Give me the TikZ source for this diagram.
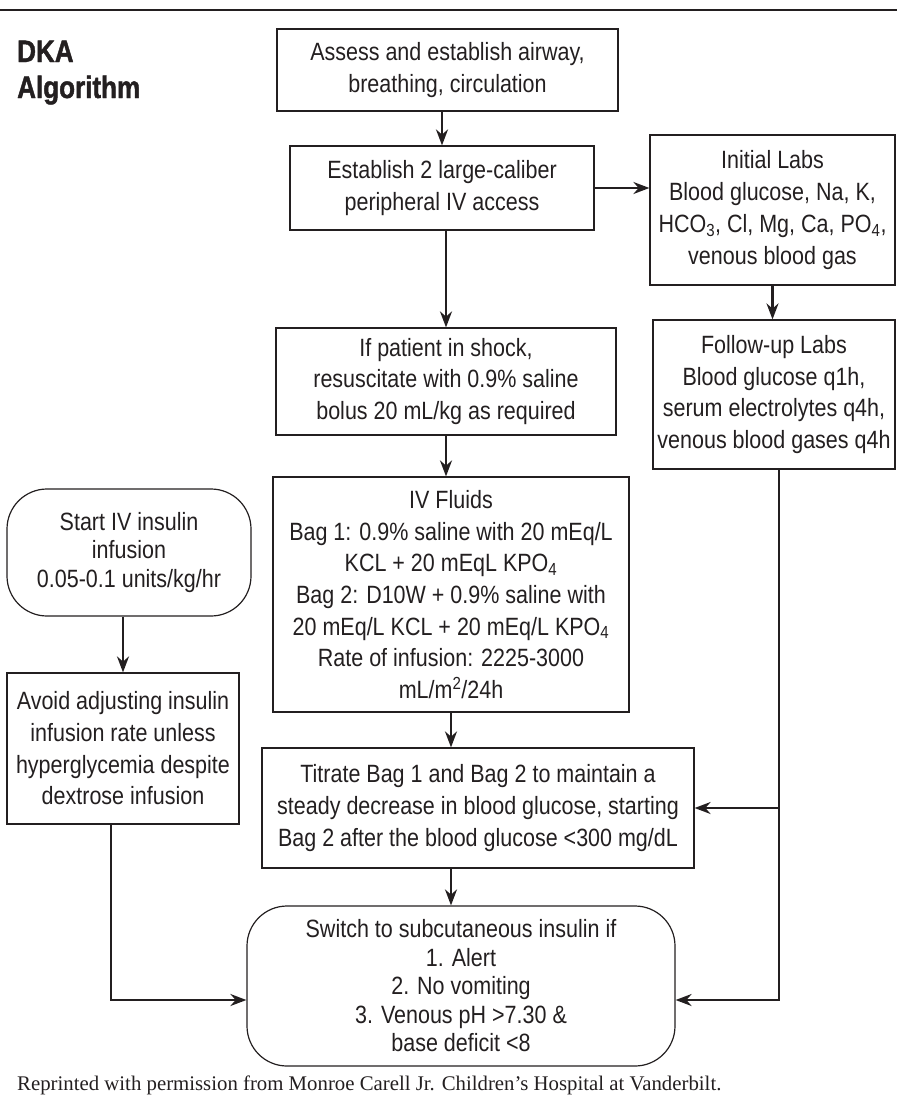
\documentclass[tikz,border=0pt]{standalone}
\usepackage{fontspec}
\setmainfont[FakeStretch=0.86]{Liberation Sans}
\newfontfamily\titlefont[FakeStretch=0.84,BoldFeatures={FakeBold=1.4}]{Liberation Sans}
\newfontfamily\captionserif{Liberation Serif}
\usetikzlibrary{arrows.meta}
\definecolor{inkgray}{RGB}{35,31,32}
\begin{document}
\begin{tikzpicture}
[x=1pt,y=-1pt,
  boxdecorate/.style={shape=rectangle,draw=inkgray,line width=1.2pt,inner sep=0pt,align=center,
    text=inkgray,font=\fontsize{25}{31.7}\selectfont},%
  rounddecorate/.style={boxdecorate,rounded corners=40pt,font=\fontsize{25}{28.5}\selectfont},%
  linedecorate/.style={-{Stealth[length=16pt,width=12pt]},line width=2.2pt,draw=inkgray}]
\useasboundingbox (0,0) rectangle (897,1103);
%% rule and title
\draw[inkgray,line width=1.5pt] (0,10) -- (897,10);
\node (dka) at (17,62) [anchor=base west,inner sep=0pt,text=inkgray,font=\titlefont\fontsize{31}{36}\bfseries] {DKA};
\node (algorithm) at (17,98) [anchor=base west,inner sep=0pt,text=inkgray,font=\titlefont\fontsize{31}{36}\bfseries] {Algorithm};
%% boxes
\foreach \nodename/\x/\y/\w/\h/\txt in {
  a/447.5/70/341/82/{Assess and establish airway,\\breathing, circulation},
  b/442/188/304/84/{Establish 2 large-caliber\\peripheral IV access},
  c/772.5/210/245/150/{Initial Labs\\Blood glucose, Na, K,\\HCO\textsubscript{3}, Cl, Mg, Ca, PO\textsubscript{4},\\venous blood gas},
  d/774/394.5/242/149/{Follow-up Labs\\Blood glucose q1h,\\serum electrolytes q4h,\\venous blood gases q4h},
  e/446/381.5/340/107/{If patient in shock,\\resuscitate with 0.9\% saline\\bolus 20 mL/kg as required},
  f/451/594.5/356/235/{IV Fluids\\Bag 1: 0.9\% saline with 20 mEq/L\\KCL + 20 mEqL KPO\textsubscript{4}\\Bag 2: D10W + 0.9\% saline with\\20 mEq/L KCL + 20 mEq/L KPO\textsubscript{4}\\Rate of infusion: 2225-3000\\mL/m\textsuperscript{2}/24h},
  g/478/808/432/120/{Titrate Bag 1 and Bag 2 to maintain a\\steady decrease in blood glucose, starting\\Bag 2 after the blood glucose <300 mg/dL},
  j/123/748.5/232/151/{Avoid adjusting insulin\\infusion rate unless\\hyperglycemia despite\\dextrose infusion}} {
  \node (\nodename) at (\x,\y) [boxdecorate,minimum width=\w pt,minimum height=\h pt] {\txt};
}
\node (i) at (129,552.5) [rounddecorate,minimum width=244pt,minimum height=127pt]
  {Start IV insulin\\infusion\\0.05-0.1 units/kg/hr};
\node (h) at (461,986) [rounddecorate,minimum width=428pt,minimum height=160pt]
  {Switch to subcutaneous insulin if\\1. Alert\\2. No vomiting\\3. Venous pH >7.30 \&\\base deficit <8};
%% connectors
\draw[linedecorate] (a.south -| b.north) -- (b.north);
\draw[linedecorate] (b.east) -- (c.west |- b.east);
\draw[linedecorate] (c.south) -- (c.south |- d.north);
\draw[linedecorate] (b.south -| e.north) -- (e.north);
\draw[linedecorate] (e.south) -- (e.south |- f.north);
\draw[linedecorate] (f.south) -- (f.south |- g.north);
\draw[linedecorate] (g.south -| f.south) -- (h.north -| f.south);
\draw[linedecorate] (i.south -| j.north) -- (j.north);
\draw[linedecorate] ([xshift=-12pt]j.south) |- ([yshift=-14pt]h.west);
\draw[linedecorate] ([xshift=5pt]d.south) |- ([yshift=-14pt]h.east);
\draw[linedecorate] ([xshift=5pt]d.south |- g.east) -- (g.east);
%% credit line
\node (credit) at (17,1090) [anchor=base west,inner sep=0pt,text=inkgray,font=\captionserif\fontsize{20.8}{24}\selectfont]
  {Reprinted with permission from Monroe Carell Jr. Children’s Hospital at Vanderbilt.};
\end{tikzpicture}
\end{document}
